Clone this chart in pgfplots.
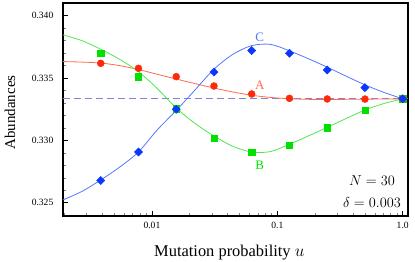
\documentclass[border=0pt]{standalone}
\usepackage{fontspec}
\setmainfont{Liberation Serif}
\usepackage{pgfplots}
\pgfplotsset{compat=1.18}
\definecolor{redmark}{RGB}{255,40,10}
\definecolor{redline}{RGB}{255,105,80}
\definecolor{greenmark}{RGB}{0,225,0}
\definecolor{greenline}{RGB}{80,230,80}
\definecolor{bluemark}{RGB}{10,55,250}
\definecolor{blueline}{RGB}{85,120,255}
\definecolor{dashc}{RGB}{130,130,215}
\begin{document}
\begin{tikzpicture}
\begin{axis}[
  name=ax,
  scale only axis, width=345bp, height=213bp,
  xmode=log, xmin=0.001953, xmax=1.102, ymin=0.32393, ymax=0.34102,
  axis line style={line width=1.2bp, black},
  tick pos=left, tick align=inside,
  major tick length=5bp, minor tick length=3bp,
  every major tick/.append style={black, line width=0.5bp},
  every minor tick/.append style={gray, line width=0.4bp},
  xtick={0.01,0.1,1}, xticklabels={0.01,0.1,1.0},
  minor xtick={0.002,0.003,0.004,0.005,0.006,0.007,0.008,0.009,0.02,0.03,0.04,0.05,0.06,0.07,0.08,0.09,0.2,0.3,0.4,0.5,0.6,0.7,0.8,0.9},
  ytick={0.325,0.33,0.335,0.34}, yticklabels={0.325,0.330,0.335,0.340},
  minor ytick={0.324,0.326,0.327,0.328,0.329,0.331,0.332,0.333,0.334,0.336,0.337,0.338,0.339},
  tick label style={font=\fontsize{9.6}{11}\selectfont},
  yticklabel style={anchor=east, inner sep=0pt, xshift=-9.5bp},
  xticklabel style={anchor=north, inner sep=0pt, yshift=-5.5bp},
  xlabel={Mutation probability $u$},
  ylabel={Abundances},
  label style={font=\fontsize{15}{18}\selectfont},
  xlabel style={font=\fontsize{16.5}{19}\selectfont, at={(axis description cs:0.482,-0.191)}, anchor=base, inner sep=0pt},
  ylabel style={at={(axis description cs:-0.139,0.486)}, anchor=base, inner sep=0pt},
  clip=false,
]
\addplot[dashc, line width=0.8bp, dash pattern=on 7bp off 4bp] coordinates {(0.001953,0.333333) (1.102,0.333333)};
% theory curves
\addplot[redline, line width=0.8bp, smooth] coordinates {
(0.001953,0.33632) (0.002762,0.33628) (0.003906,0.33620) (0.005524,0.33600) (0.0078125,0.33568)
(0.011049,0.33530) (0.015625,0.33492) (0.022097,0.33455) (0.03125,0.33420) (0.044194,0.33388)
(0.0625,0.33362) (0.088388,0.33344) (0.125,0.33334) (0.176777,0.33329) (0.25,0.33328)
(0.353553,0.33329) (0.5,0.33330) (0.707107,0.33332) (1,0.33333)};
\addplot[greenline, line width=0.8bp, smooth] coordinates {
(0.001953,0.33846) (0.002762,0.33800) (0.003906,0.33731) (0.005524,0.33650) (0.0078125,0.33551)
(0.011049,0.33415) (0.015625,0.33260) (0.022097,0.33135) (0.03125,0.33035) (0.044194,0.32952)
(0.0625,0.32906) (0.088388,0.32910) (0.125,0.32969) (0.176777,0.33035) (0.25,0.33105)
(0.353553,0.33175) (0.5,0.33244) (0.707107,0.33295) (1,0.33333)};
\addplot[blueline, line width=0.8bp, smooth] coordinates {
(0.001953,0.32522) (0.002762,0.32590) (0.003906,0.32682) (0.005524,0.32785) (0.0078125,0.32907)
(0.011049,0.33085) (0.015625,0.33240) (0.022097,0.33405) (0.03125,0.33571) (0.044194,0.33690)
(0.0625,0.33760) (0.088388,0.33770) (0.125,0.33718) (0.176777,0.33655) (0.25,0.33587)
(0.353553,0.33515) (0.5,0.33445) (0.707107,0.33385) (1,0.33333)};
% simulation points
\addplot[only marks, mark=square*, mark size=3.2bp, mark options={draw=greenmark, fill=greenmark}] coordinates {
(0.00390625,0.33698) (0.0078125,0.33511) (0.015625,0.33254) (0.03125,0.33017) (0.0625,0.32907)
(0.125,0.32963) (0.25,0.33102) (0.5,0.33244) (1,0.33333)};
\addplot[only marks, mark=*, mark size=3.5bp, mark options={draw=redmark, fill=redmark}] coordinates {
(0.00390625,0.33618) (0.0078125,0.33578) (0.015625,0.33511) (0.03125,0.33436) (0.0625,0.33372)
(0.125,0.33337) (0.25,0.33332) (0.5,0.33331) (1,0.33333)};
\addplot[only marks, mark=square*, mark size=2.9bp, mark options={draw=bluemark, fill=bluemark, rotate=45}] coordinates {
(0.00390625,0.32677) (0.0078125,0.32907) (0.015625,0.33250) (0.03125,0.33549) (0.0625,0.33720)
(0.125,0.33699) (0.25,0.33565) (0.5,0.33423) (1,0.33333)};
\node[text=redline, font=\fontsize{13}{15}\selectfont] at (axis cs:0.0725,0.33445) {A};
\node[text=greenmark, font=\fontsize{13}{15}\selectfont] at (axis cs:0.0725,0.32803) {B};
\node[text=blueline, font=\fontsize{13}{15}\selectfont] at (axis cs:0.0725,0.33830) {C};
\node[anchor=base, font=\fontsize{14}{16}\selectfont, inner sep=0pt] at (rel axis cs:0.8957,0.1455) {$N=30$};
\node[anchor=base, font=\fontsize{14}{16}\selectfont, inner sep=0pt] at (rel axis cs:0.8957,0.040) {$\delta=0.003$};
\end{axis}
\pgfresetboundingbox
\path ([shift={(-63bp,-46bp)}]ax.south west) rectangle ([shift={(7bp,3bp)}]ax.north east);
\end{tikzpicture}
\end{document}
